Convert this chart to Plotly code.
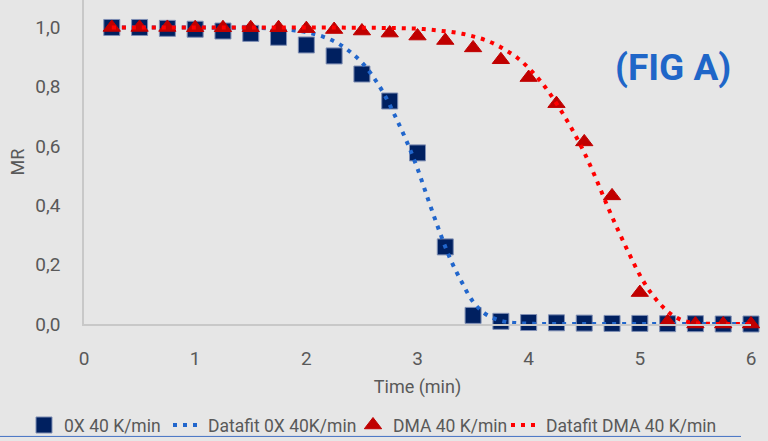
import plotly.graph_objects as go

# ---- data ----
time = [0.25, 0.5, 0.75, 1.0, 1.25, 1.5, 1.75, 2.0, 2.25, 2.5, 2.75, 3.0,
        3.25, 3.5, 3.75, 4.0, 4.25, 4.5, 4.75, 5.0, 5.25, 5.5, 5.75, 6.0]
ox_mr = [1.0, 1.0, 0.997, 0.994, 0.988, 0.98, 0.967, 0.941, 0.904, 0.843, 0.752, 0.577,
         0.26, 0.029, 0.009, 0.005, 0.004, 0.003, 0.002, 0.002, 0.001, 0.001, 0.0, 0.0]
dma_mr = [1.0, 1.0, 1.0, 0.999, 0.999, 0.999, 0.999, 0.996, 0.993, 0.988, 0.981, 0.971,
          0.956, 0.931, 0.891, 0.831, 0.743, 0.614, 0.432, 0.106, 0.007, 0.0, 0.0, 0.0]

fit_time = [0.25, 0.5, 0.75, 1.0, 1.25, 1.5, 1.6, 1.7, 1.8, 1.9, 2.0, 2.1, 2.2, 2.3, 2.4,
            2.5, 2.6, 2.7, 2.8, 2.9, 3.0, 3.1, 3.2, 3.3, 3.4, 3.5, 3.6, 3.7, 3.8, 3.9,
            4.0, 4.1, 4.2, 4.3, 4.4, 4.5, 4.6, 4.7, 4.8, 4.9, 5.0, 5.1, 5.2, 5.3, 5.4,
            5.5, 5.6, 5.7, 5.8, 5.9, 6.0]
fit_ox = [1.0, 1.0, 1.0, 1.0, 0.999, 0.999, 0.998, 0.996, 0.994, 0.99, 0.984, 0.975, 0.962,
          0.943, 0.916, 0.882, 0.834, 0.775, 0.70, 0.618, 0.524, 0.415, 0.31, 0.215, 0.14,
          0.075, 0.037, 0.017, 0.007, 0.003, 0.001, 0.0, 0.0, 0.0, 0.0, 0.0, 0.0, 0.0, 0.0,
          0.0, 0.0, 0.0, 0.0, 0.0, 0.0, 0.0, 0.0, 0.0, 0.0, 0.0, 0.0]
fit_dma = [1.0, 1.0, 1.0, 1.0, 1.0, 1.0, 1.0, 1.0, 1.0, 1.0, 1.0, 1.0, 1.0, 1.0, 0.999,
           0.999, 0.999, 0.998, 0.998, 0.997, 0.996, 0.993, 0.989, 0.985, 0.979, 0.97,
           0.959, 0.943, 0.922, 0.897, 0.863, 0.822, 0.772, 0.714, 0.65, 0.578, 0.495,
           0.405, 0.32, 0.24, 0.165, 0.105, 0.06, 0.028, 0.01, 0.003, 0.001, 0.0, 0.0,
           0.0, 0.0]

names = ["0X 40 K/min", "Datafit 0X 40K/min", "DMA 40 K/min", "Datafit DMA 40 K/min"]
x_ticks = [0, 1, 2, 3, 4, 5, 6]
y_ticks = [0.0, 0.2, 0.4, 0.6, 0.8, 1.0]

FONT = "Roboto, Liberation Sans, sans-serif"
GREY = "#595959"
BG = "#E6E6E6"

fig = go.Figure()
fig.add_trace(go.Scatter(
    x=time, y=ox_mr, mode="markers", name=names[0], cliponaxis=False,
    legend="legend",
    marker=dict(symbol="square", size=16, color="#002060",
                line=dict(color="#7F8FB4", width=1))))
fig.add_trace(go.Scatter(
    x=fit_time, y=fit_ox, mode="lines", name=names[1], line_shape="spline",
    cliponaxis=False, legend="legend2",
    line=dict(color="#2166CC", width=4, dash="4px,6px")))
fig.add_trace(go.Scatter(
    x=time, y=dma_mr, mode="markers", name=names[2], cliponaxis=False,
    legend="legend3",
    marker=dict(symbol="triangle-up", size=15, color="#C00000",
                line=dict(color="#C00000", width=1))))
fig.add_trace(go.Scatter(
    x=fit_time, y=fit_dma, mode="lines", name=names[3], line_shape="spline",
    cliponaxis=False, legend="legend4",
    line=dict(color="#FF0000", width=4, dash="4px,6px")))

fig.add_annotation(x=5.3, y=0.865, xref="x", yref="y", text="<b>(FIG A)</b>",
                   showarrow=False, xanchor="center", yanchor="middle",
                   font=dict(family=FONT, size=37, color="#1F66C8"))

fig.add_shape(type="line", xref="paper", yref="paper",
              x0=-0.126, x1=0.985, y0=-0.347, y1=-0.347,
              line=dict(color="#4472C4", width=1))


def leg(text_left):
    return dict(orientation="h", xref="container", yref="container",
                x=(text_left - 40) / 768, xanchor="left", y=0.036, yanchor="middle",
                font=dict(family=FONT, size=17.5, color=GREY),
                itemwidth=30, bgcolor="rgba(0,0,0,0)", borderwidth=0)


fig.update_layout(
    width=768, height=441,
    margin=dict(l=84, r=17, t=0, b=117),
    paper_bgcolor=BG, plot_bgcolor=BG,
    separators=",.",
    font=dict(family=FONT, size=19, color=GREY),
    showlegend=True,
    legend=leg(64), legend2=leg(208), legend3=leg(393), legend4=leg(546),
    xaxis=dict(range=[0, 6], tickvals=x_ticks, showgrid=False, zeroline=False,
               showline=True, linecolor="#C8C8C8", linewidth=1.5,
               ticks="", ticklabelstandoff=16, automargin=False,
               tickfont=dict(family=FONT, size=19, color=GREY),
               title=dict(text="Time (min)", standoff=12,
                          font=dict(family=FONT, size=18, color=GREY))),
    yaxis=dict(range=[0, 1.0926], tickvals=y_ticks, tickformat=".1f",
               showgrid=False, zeroline=False, automargin=False,
               showline=True, linecolor="#C8C8C8", linewidth=1.5,
               ticks="", ticklabelstandoff=18,
               tickfont=dict(family=FONT, size=19, color=GREY),
               title=dict(text="MR", standoff=6,
                          font=dict(family=FONT, size=18, color=GREY))),
)

fig.write_html("out.html", config={"displayModeBar": False},
               post_script="document.body.style.margin='0';")
